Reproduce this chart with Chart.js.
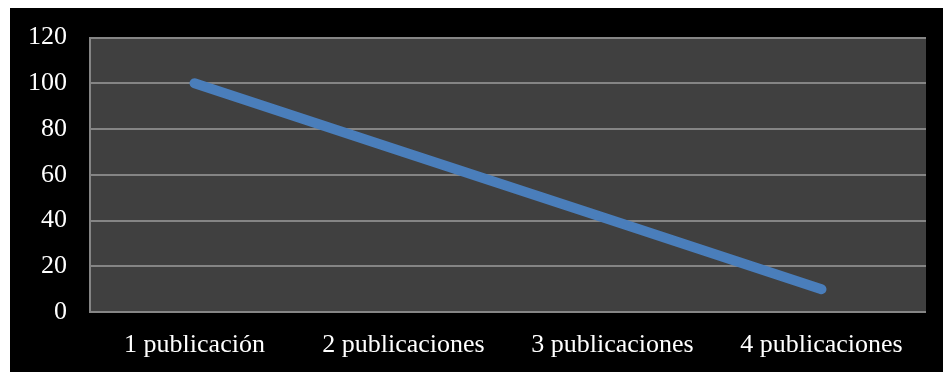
<!DOCTYPE html>
<html>
<head>
<meta charset="utf-8">
<script src="https://cdn.jsdelivr.net/npm/chart.js@4"></script>
<style>
  html, body { margin: 0; padding: 0; background: #ffffff; width: 943px; height: 372px; overflow: hidden; }
  #box { position: absolute; left: 10px; top: 8px; width: 933px; height: 364px; background: #000000; }
  #c { position: absolute; left: 0; top: -9px; }
</style>
</head>
<body>
<div id="box"><canvas id="c" width="933" height="373"></canvas></div>
<script>
const categories = ["1 publicación", "2 publicaciones", "3 publicaciones", "4 publicaciones"];
const values = [100, 70, 40, 10];
const yTicks = [0, 20, 40, 60, 80, 100, 120];

const plotBg = {
  id: 'plotBg',
  beforeDraw(chart) {
    const { ctx, chartArea: a } = chart;
    ctx.save();
    ctx.fillStyle = '#404040';
    ctx.fillRect(a.left, a.top, a.right - a.left, a.bottom - a.top);
    ctx.restore();
  }
};

const serif = 'Liberation Serif, Times New Roman, serif';

new Chart(document.getElementById('c'), {
  type: 'line',
  data: {
    labels: categories,
    datasets: [{
      data: values,
      borderColor: '#4A7EBB',
      borderWidth: 10,
      borderCapStyle: 'round',
      borderJoinStyle: 'round',
      pointRadius: 0,
      pointHoverRadius: 0,
      fill: false,
      tension: 0
    }]
  },
  options: {
    responsive: false,
    animation: false,
    events: [],
    layout: { padding: { top: 30, right: 17, left: 0, bottom: 0 } },
    plugins: { legend: { display: false }, tooltip: { enabled: false } },
    scales: {
      x: {
        offset: true,
        grid: { display: false, drawTicks: false },
        border: { display: false },
        ticks: { color: '#ffffff', padding: 18, maxRotation: 0,
          font: { family: serif, size: 26 } },
        afterFit(s) { s.height = 60; }
      },
      y: {
        min: 0, max: 120,
        afterBuildTicks(s) { s.ticks = yTicks.map(v => ({ value: v })); },
        grid: { color: '#858585', lineWidth: 2, drawTicks: false },
        border: { display: true, color: '#858585', width: 2 },
        ticks: { color: '#ffffff', padding: 23,
          font: { family: serif, size: 26 } },
        afterFit(s) { s.width = 80; }
      }
    }
  },
  plugins: [plotBg]
});
</script>
</body>
</html>
